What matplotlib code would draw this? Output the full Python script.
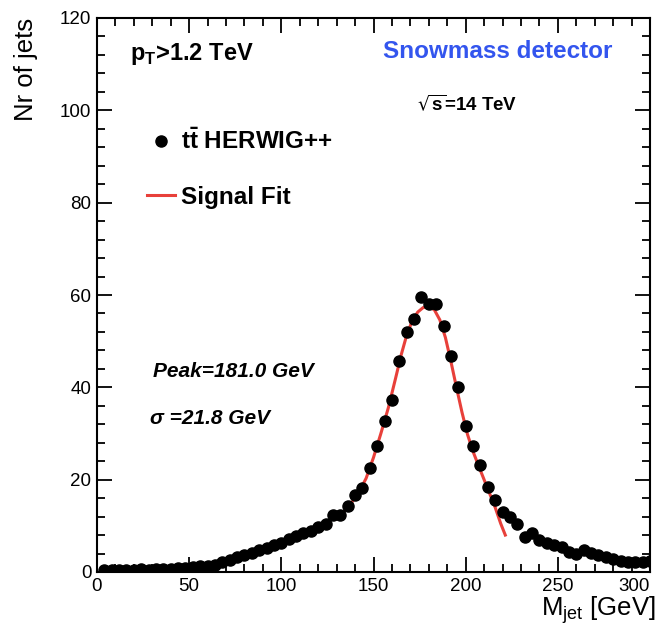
import matplotlib
matplotlib.use("Agg")
import matplotlib.pyplot as plt
from matplotlib.ticker import MultipleLocator

plt.rcParams["font.family"] = ["Liberation Sans", "DejaVu Sans"]

# histogram: jet mass bin centres [GeV] and counts
mass = [4, 8, 12, 16, 20, 24, 28, 32, 36, 40, 44, 48, 52, 56, 60, 64, 68, 72, 76,
        80, 84, 88, 92, 96, 100, 104, 108, 112, 116, 120, 124, 128, 132, 136, 140,
        144, 148, 152, 156, 160, 164, 168, 172, 176, 180, 184, 188, 192, 196, 200,
        204, 208, 212, 216, 220, 224, 228, 232, 236, 240, 244, 248, 252, 256, 260,
        264, 268, 272, 276, 280, 284, 288, 292, 296, 300]
counts = [0.4, 0.5, 0.4, 0.5, 0.5, 0.6, 0.5, 0.6, 0.7, 0.7, 0.8, 0.9, 1.0, 1.2, 1.3,
          1.6, 2.1, 2.5, 3.2, 3.7, 4.2, 4.7, 5.2, 5.8, 6.3, 7.1, 7.8, 8.4, 8.9, 9.8,
          10.5, 12.3, 12.3, 14.3, 16.7, 18.1, 22.5, 27.4, 32.6, 37.3, 45.8, 52.0,
          54.8, 59.6, 58.0, 58.0, 53.3, 46.8, 40.0, 31.7, 27.4, 23.2, 18.5, 15.6,
          13.1, 12.0, 10.5, 7.6, 8.4, 6.9, 6.2, 5.8, 5.5, 4.4, 3.8, 4.8, 4.1, 3.7,
          3.3, 2.8, 2.3, 2.2, 2.1, 2.2, 2.3]

# signal fit curve
fit_x = [130, 134, 138, 142, 146, 150, 154, 158, 162, 165, 168, 171, 174, 177, 180,
         183, 186, 189, 192, 195, 198, 201, 204, 207, 210, 213, 216, 219, 221.5]
fit_y = [11.6, 13.1, 15.0, 17.2, 20.3, 24.8, 30.0, 35.5, 42.0, 47.0, 51.3, 54.4,
         56.3, 57.3, 57.4, 56.8, 54.6, 50.8, 45.6, 40.0, 34.6, 29.8, 26.1, 23.0,
         20.0, 17.0, 14.0, 10.5, 8.0]

fig = plt.figure(figsize=(6.58, 6.36), dpi=100)
ax = fig.add_axes([97 / 658, 1 - 572 / 636, 553 / 658, 554 / 636])

fit_line, = ax.plot(fit_x, fit_y, color="#e8403a", lw=2.2, zorder=2,
                    label="Signal Fit")
pts, = ax.plot(mass, counts, "o", color="black", ms=8, zorder=3,
               label=r"$\mathregular{t\bar{t}}$ HERWIG++")

ax.set_xlim(0, 300)
ax.set_ylim(0, 120)
ax.xaxis.set_major_locator(MultipleLocator(50))
ax.xaxis.set_minor_locator(MultipleLocator(10))
ax.yaxis.set_major_locator(MultipleLocator(20))
ax.yaxis.set_minor_locator(MultipleLocator(4))
ax.tick_params(which="both", direction="in", top=True, right=True, width=1.3)
ax.tick_params(which="major", length=11, labelsize=13.5, pad=4)
ax.tick_params(which="minor", length=5.5)
for s in ax.spines.values():
    s.set_linewidth(1.5)

ax.set_ylabel("Nr of jets", fontsize=18.5, loc="top")
ax.yaxis.set_label_coords(-0.107, 1.0)
ax.set_xlabel(r"M$_\mathregular{jet}$ [GeV]", fontsize=18.5, loc="right")
ax.xaxis.set_label_coords(1.01, -0.04)

ax.legend(handles=[pts, fit_line], loc="upper left",
          bbox_to_anchor=(0.09, 0.80), frameon=False,
          prop={"weight": "bold", "size": 17.5},
          handlelength=1.15, handletextpad=0.25, labelspacing=1.3,
          borderpad=0, borderaxespad=0)

ax.text(0.0597, 0.924, r"p$_\mathregular{T}$>1.2 TeV", transform=ax.transAxes,
        fontsize=17, fontweight="bold", va="baseline")
ax.text(0.517, 0.928, "Snowmass detector", transform=ax.transAxes,
        fontsize=17.5, fontweight="bold", color="#3355ee", va="baseline")
ax.text(0.579, 0.834, r"$\sqrt{\mathregular{s}}$=14 TeV", transform=ax.transAxes,
        fontsize=13.5, fontweight="bold", va="baseline")
ax.text(0.101, 0.352, "Peak=181.0 GeV", transform=ax.transAxes,
        fontsize=15, fontweight="bold", style="italic", va="baseline")
ax.text(0.096, 0.267, "σ =21.8 GeV", transform=ax.transAxes,
        fontsize=15, fontweight="bold", style="italic", va="baseline")

# keep the last x tick label inside the figure, as in the original
fig.canvas.draw()
for tick in ax.xaxis.get_major_ticks():
    if tick.get_loc() == 300:
        tick.label1.set_horizontalalignment("right")
        tick.label1.set_x(tick.get_loc())

fig.savefig("out.png", dpi=100)
